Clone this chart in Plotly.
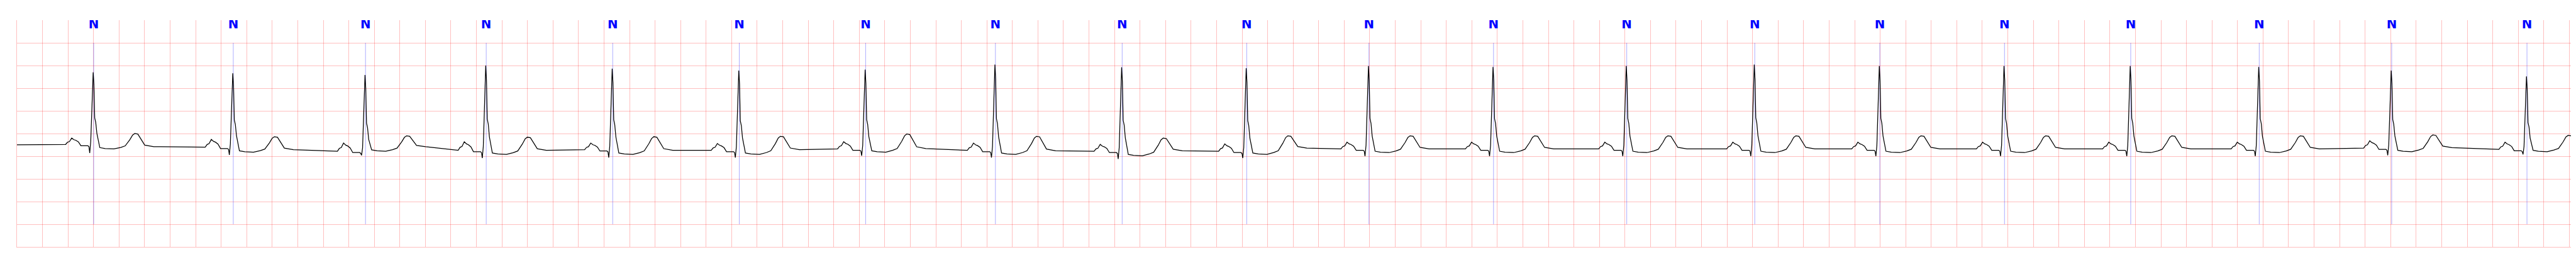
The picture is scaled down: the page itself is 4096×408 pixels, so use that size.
import plotly.graph_objects as go

# ---------------- data ----------------
# beat annotation times (s) and labels
beat_times = [0.601, 1.695, 2.731, 3.677, 4.668, 5.660, 6.650, 7.667, 8.660, 9.636,
              10.594, 11.570, 12.614, 13.617, 14.597, 15.574, 16.563, 17.570, 18.608, 19.668]
beat_labels = ["N"] * 20

# per-beat levels (mV)
base_mv = [-0.24, -0.30, -0.39, -0.37, -0.355, -0.37, -0.34, -0.37, -0.39, -0.39,
           -0.34, -0.34, -0.34, -0.34, -0.34, -0.34, -0.34, -0.34, -0.32, -0.35]
p_mv = [-0.10, -0.13, -0.21, -0.18, -0.21, -0.22, -0.18, -0.21, -0.24, -0.23,
        -0.19, -0.19, -0.19, -0.19, -0.19, -0.19, -0.19, -0.19, -0.16, -0.19]
q_mv = [-0.43, -0.47, -0.48, -0.54, -0.53, -0.53, -0.49, -0.53, -0.56, -0.54,
        -0.50, -0.50, -0.50, -0.50, -0.50, -0.50, -0.50, -0.50, -0.48, -0.46]
r_mv = [1.35, 1.33, 1.29, 1.50, 1.43, 1.39, 1.41, 1.52, 1.46, 1.44,
        1.49, 1.47, 1.49, 1.52, 1.49, 1.49, 1.49, 1.47, 1.39, 1.26]
st_mv = [-0.34, -0.41, -0.39, -0.46, -0.46, -0.46, -0.41, -0.46, -0.49, -0.46,
         -0.42, -0.42, -0.42, -0.42, -0.42, -0.42, -0.42, -0.42, -0.40, -0.40]
t_mv = [0.00, -0.07, -0.05, -0.08, -0.07, -0.06, -0.01, -0.06, -0.10, -0.05,
        -0.05, -0.05, -0.05, -0.05, -0.05, -0.05, -0.05, -0.05, -0.03, -0.04]
post_mv = [-0.29, -0.355, -0.29, -0.37, -0.37, -0.355, -0.33, -0.38, -0.38, -0.32,
           -0.34, -0.34, -0.34, -0.34, -0.34, -0.34, -0.34, -0.34, -0.31, -0.33]

start_mv = -0.25
end_time = 20.062

# beat shape read from the first beat: (offset s, reference level, fraction toward target)
shape_dt = [-0.220, -0.205, -0.190, -0.172, -0.155, -0.140, -0.120, -0.100, -0.045, -0.037,
            -0.031, -0.023, -0.017, -0.010, -0.004, 0.002, 0.008, 0.016, 0.025, 0.048,
            0.090, 0.158, 0.212, 0.247, 0.283, 0.305, 0.322, 0.346, 0.373, 0.400, 0.471]
shape_kind = ["base", "P", "P", "P", "P", "P", "P", "PR", "PR", "PR",
              "Q", "R", "R", "R", "R", "R", "R", "R", "R", "ST",
              "ST", "ST", "T", "T", "T", "T", "T", "TD", "TD", "TD", "TD"]
shape_frac = [0.0, 0.35, 0.45, 1.0, 0.75, 0.65, 0.40, 0.0, 0.0, -0.02,
              1.0, 0.06, 0.37, 0.83, 1.0, 0.83, 0.38, 0.32, 0.17, 0.03,
              0.01, 0.0, 0.10, 0.20, 0.60, 0.90, 1.0, 0.96, 0.52, 0.12, 0.0]

# ---------------- build trace ----------------
ecg_t = [0.0]
ecg_v = [start_mv]
for i, tb in enumerate(beat_times):
    b, p, q, r, st, tt, po = base_mv[i], p_mv[i], q_mv[i], r_mv[i], st_mv[i], t_mv[i], post_mv[i]
    pr = b - 0.03
    for dt, kind, f in zip(shape_dt, shape_kind, shape_frac):
        if kind == "base":
            v = b
        elif kind == "P":
            v = b + f * (p - b)
        elif kind == "PR":
            v = pr + f
        elif kind == "Q":
            v = q
        elif kind == "R":
            v = pr + f * (r - pr)
        elif kind == "ST":
            v = st + f
        elif kind == "T":
            v = st + f * (tt - st)
        else:  # TD
            v = po + f * (tt - po)
        ecg_t.append(tb + dt)
        ecg_v.append(v)

# annotation marker segments
MARK_LOW, MARK_HIGH, LABEL_Y = -2.0, 2.0, 2.39
mk_x, mk_y = [], []
for tb in beat_times:
    mk_x += [tb, tb, None]
    mk_y += [MARK_LOW, MARK_HIGH, None]

GRID = "rgba(255,0,0,0.25)"

fig = go.Figure()
fig.add_trace(go.Scatter(x=mk_x, y=mk_y, mode="lines",
                         line=dict(color="rgba(0,0,255,0.55)", width=0.6),
                         hoverinfo="skip", showlegend=False))
fig.add_trace(go.Scatter(x=ecg_t, y=ecg_v, mode="lines",
                         line=dict(color="black", width=1.25),
                         showlegend=False))
fig.add_trace(go.Scatter(x=beat_times, y=[LABEL_Y] * len(beat_times), mode="text",
                         text=beat_labels, textposition="middle center",
                         textfont=dict(color="#0000ff", size=22, weight="bold",
                                       family="DejaVu Sans Condensed, Liberation Sans Narrow, sans-serif"),
                         showlegend=False, hoverinfo="skip"))

fig.update_layout(
    width=4096, height=408,
    margin=dict(l=18.5, r=6, t=24, b=24),
    paper_bgcolor="white", plot_bgcolor="white",
    xaxis=dict(range=[0, end_time], tick0=0, dtick=0.2, showticklabels=False,
               showgrid=True, gridcolor=GRID, gridwidth=1.1, zeroline=False,
               showline=True, linecolor=GRID, linewidth=0.6, ticks=""),
    yaxis=dict(range=[-2.5, 2.5], tick0=0, dtick=0.5, showticklabels=False,
               showgrid=True, gridcolor=GRID, gridwidth=1.1, zeroline=False,
               showline=True, linecolor=GRID, linewidth=0.7, ticks=""),
)

fig.write_html("out.html")
